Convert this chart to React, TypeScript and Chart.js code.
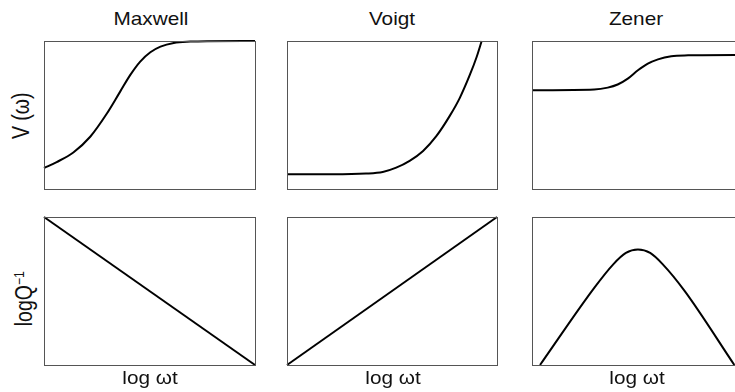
import React, { useEffect, useRef } from "react";
import { Chart, registerables } from "chart.js";

Chart.register(...registerables);

// Column headings and axis captions
const modelNames = ["Maxwell", "Voigt", "Zener"];
const xAxisLabel = "log \u03c9t";
const velocityLabel = "V (\u03c9)";
const attenuationBase = "logQ";
const attenuationSup = "\u22121";

// Normalised log(ωt) (0..1) against normalised velocity V(ω) (0..1)
const maxwellVelX = [0, 0.06, 0.139, 0.219, 0.298, 0.361, 0.409, 0.456, 0.504, 0.552, 0.615, 0.694, 0.773, 1];
const maxwellVelY = [0.142, 0.182, 0.247, 0.353, 0.51, 0.658, 0.771, 0.861, 0.924, 0.962, 0.987, 0.996, 0.999, 1];

const voigtVelX = [0, 0.218, 0.376, 0.456, 0.52, 0.584, 0.648, 0.711, 0.775, 0.823, 0.871, 0.903, 0.927];
const voigtVelY = [0.099, 0.099, 0.104, 0.115, 0.144, 0.19, 0.257, 0.357, 0.494, 0.616, 0.772, 0.892, 1];

const zenerVelX = [0, 0.295, 0.359, 0.406, 0.454, 0.502, 0.549, 0.597, 0.66, 0.74, 0.963, 1];
const zenerVelY = [0.667, 0.672, 0.685, 0.706, 0.746, 0.802, 0.847, 0.876, 0.897, 0.903, 0.906, 0.906];

// Normalised log(ωt) against normalised attenuation log Q^-1
const maxwellAttX = [0, 1];
const maxwellAttY = [1, 0];

const voigtAttX = [0, 1];
const voigtAttY = [0, 1];

const zenerAttX = [0.038, 0.295, 0.385, 0.445, 0.502, 0.56, 0.62, 0.724, 0.959];
const zenerAttY = [0, 0.521, 0.68, 0.757, 0.78, 0.757, 0.68, 0.499, 0];

const FONT = "'Liberation Sans', Arial, Helvetica, sans-serif";
const FS = 18.6;
const STRETCH = 1.116;
const VFS = 19.5;
const VSTRETCH = 1.18;
const PAD = 6;

// Grid geometry of the six plotting boxes
const colLeft = [44, 287, 532];
const colWidth = [211, 210, 211];
const rowTop = [41, 217];
const rowHeight = [148, 148];

const framePlugin = {
  id: "panelFrame",
  afterDatasetsDraw(chart: any) {
    const { ctx, chartArea: a } = chart;
    ctx.save();
    ctx.strokeStyle = "#555";
    ctx.lineWidth = 1;
    ctx.strokeRect(a.left + 0.5, a.top + 0.5, a.right - a.left, a.bottom - a.top);
    ctx.restore();
  },
};

type PanelProps = {
  left: number;
  top: number;
  width: number;
  height: number;
  xs: number[];
  ys: number[];
};

function Panel({ left, top, width, height, xs, ys }: PanelProps) {
  const ref = useRef<HTMLCanvasElement>(null);
  useEffect(() => {
    const canvas = ref.current;
    if (!canvas) return;
    const chart = new Chart(canvas, {
      type: "line",
      data: {
        datasets: [
          {
            data: xs.map((x, i) => ({ x, y: ys[i] })),
            borderColor: "#000",
            borderWidth: 2,
            pointRadius: 0,
            cubicInterpolationMode: "monotone",
            fill: false,
            clip: 4,
          } as any,
        ],
      },
      options: {
        animation: false,
        responsive: false,
        devicePixelRatio: 1,
        events: [],
        layout: { padding: PAD },
        plugins: { legend: { display: false }, tooltip: { enabled: false }, title: { display: false } },
        scales: {
          x: { type: "linear", min: 0, max: 1, display: false },
          y: { type: "linear", min: 0, max: 1, display: false },
        },
      },
      plugins: [framePlugin],
    });
    return () => chart.destroy();
  }, []);
  const w = width + 2 * PAD;
  const h = height + 2 * PAD;
  return (
    <canvas
      ref={ref}
      width={w}
      height={h}
      style={{ position: "absolute", left: left - PAD, top: top - PAD, width: w, height: h }}
    />
  );
}

// Horizontal caption positioned by its centre x and baseline y
function HText({ cx, baseline, children }: { cx: number; baseline: number; children: React.ReactNode }) {
  return (
    <div
      style={{
        position: "absolute",
        left: cx - 100,
        width: 200,
        top: baseline - 0.8465 * FS,
        height: FS,
        lineHeight: `${FS}px`,
        fontSize: FS,
        fontFamily: FONT,
        color: "#111",
        textAlign: "center",
        whiteSpace: "nowrap",
        transform: `scaleX(${STRETCH})`,
      }}
    >
      {children}
    </div>
  );
}

// Vertical caption reading bottom-to-top, positioned by its centre
function VText({ cx, cy, children }: { cx: number; cy: number; children: React.ReactNode }) {
  return (
    <div
      style={{
        position: "absolute",
        left: cx - 70,
        width: 140,
        top: cy - VFS / 2,
        height: VFS,
        lineHeight: `${VFS}px`,
        fontSize: VFS,
        fontFamily: FONT,
        color: "#111",
        textAlign: "center",
        whiteSpace: "nowrap",
        transform: `rotate(-90deg) scaleY(${VSTRETCH})`,
      }}
    >
      {children}
    </div>
  );
}

export default function App() {
  const velocity = [
    [maxwellVelX, maxwellVelY],
    [voigtVelX, voigtVelY],
    [zenerVelX, zenerVelY],
  ];
  const attenuation = [
    [maxwellAttX, maxwellAttY],
    [voigtAttX, voigtAttY],
    [zenerAttX, zenerAttY],
  ];
  const titleCx = [150.5, 392, 635.5];
  const labelCx = [150, 392.5, 636.5];

  return (
    <div
      style={{
        position: "absolute",
        left: 0,
        top: 0,
        width: 735,
        height: 392,
        overflow: "hidden",
        background: "#fff",
      }}
    >
      {velocity.map(([xs, ys], c) => (
        <Panel key={`v${c}`} left={colLeft[c]} top={rowTop[0]} width={colWidth[c]} height={rowHeight[0]} xs={xs} ys={ys} />
      ))}
      {attenuation.map(([xs, ys], c) => (
        <Panel key={`q${c}`} left={colLeft[c]} top={rowTop[1]} width={colWidth[c]} height={rowHeight[1]} xs={xs} ys={ys} />
      ))}
      {modelNames.map((name, c) => (
        <HText key={`t${c}`} cx={titleCx[c]} baseline={25.7}>
          {name}
        </HText>
      ))}
      {labelCx.map((cx, c) => (
        <HText key={`x${c}`} cx={cx} baseline={385}>
          {xAxisLabel}
        </HText>
      ))}
      <VText cx={22} cy={115.5}>
        {velocityLabel}
      </VText>
      <VText cx={25} cy={299}>
        {attenuationBase}
        <span style={{ fontSize: "0.62em", position: "relative", top: "-0.55em" }}>{attenuationSup}</span>
      </VText>
    </div>
  );
}
